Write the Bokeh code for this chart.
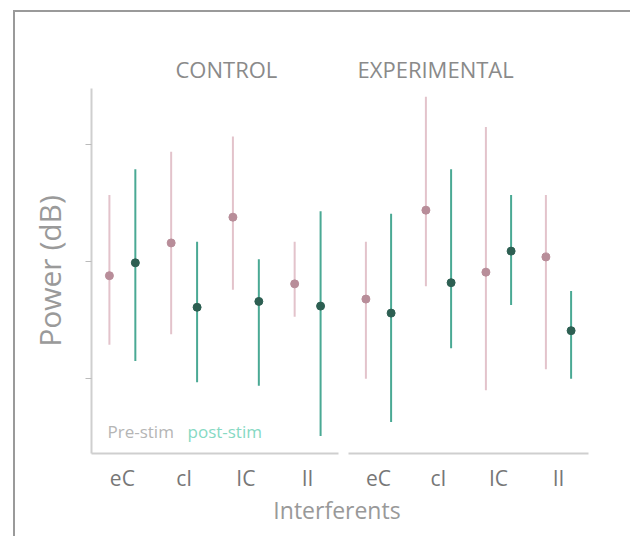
from bokeh.plotting import figure
from bokeh.models import ColumnDataSource, Range1d, FixedTicker, Label, Div, Title
from bokeh.layouts import row, column
from bokeh.transform import dodge
from bokeh.embed import file_html
from bokeh.resources import INLINE

categories = ["eC", "cI", "IC", "II"]
groups = ["CONTROL", "EXPERIMENTAL"]
series_names = ["Pre-stim", "post-stim"]

# CONTROL
control_pre_mean = [-0.12, 0.16, 0.38, -0.19]
control_pre_lo = [-0.71, -0.62, -0.24, -0.47]
control_pre_hi = [0.57, 0.94, 1.07, 0.17]
control_post_mean = [-0.01, -0.39, -0.34, -0.38]
control_post_lo = [-0.85, -1.03, -1.06, -1.49]
control_post_hi = [0.79, 0.17, 0.02, 0.43]

# EXPERIMENTAL
exp_pre_mean = [-0.32, 0.44, -0.09, 0.04]
exp_pre_lo = [-1.00, -0.21, -1.10, -0.92]
exp_pre_hi = [0.17, 1.41, 1.15, 0.57]
exp_post_mean = [-0.44, -0.18, 0.09, -0.59]
exp_post_lo = [-1.37, -0.74, -0.37, -1.00]
exp_post_hi = [0.41, 0.79, 0.57, -0.25]

y_ticks = [-1, 0, 1]

PINK_BAR = "#e3c3cb"
PINK_DOT = "#b88d99"
TEAL_BAR = "#4aa994"
TEAL_DOT = "#2d5f52"
FONT = "Open Sans"
GRAY = "#8a8a8a"
FRAME = "#9a9a9a"


def make_panel(title, pre, pre_lo, pre_hi, post, post_lo, post_hi, fw,
               bl, br, title_offset, show_y):
    p = figure(x_range=categories, y_range=Range1d(-1.64, 1.48),
               frame_width=fw, frame_height=365, output_backend="svg",
               toolbar_location=None, min_border_left=bl, min_border_right=br,
               min_border_top=76, min_border_bottom=0)
    p.x_range.range_padding = 0
    p.title = Title(text=title, align="left", offset=title_offset,
                    text_font=FONT, text_font_size="22px",
                    text_font_style="normal", text_color=GRAY)
    src = ColumnDataSource(dict(cat=categories, pre=pre, pre_lo=pre_lo, pre_hi=pre_hi,
                                post=post, post_lo=post_lo, post_hi=post_hi))
    xpre = dodge("cat", -0.21, range=p.x_range)
    xpost = dodge("cat", 0.21, range=p.x_range)
    p.segment(x0=xpre, y0="pre_lo", x1=xpre, y1="pre_hi", source=src,
              line_color=PINK_BAR, line_width=2)
    p.segment(x0=xpost, y0="post_lo", x1=xpost, y1="post_hi", source=src,
              line_color=TEAL_BAR, line_width=2)
    p.scatter(x=xpre, y="pre", source=src, size=8, fill_color=PINK_DOT,
              line_color=PINK_DOT)
    p.scatter(x=xpost, y="post", source=src, size=8, fill_color=TEAL_DOT,
              line_color=TEAL_DOT)

    p.outline_line_color = None
    p.grid.grid_line_color = None
    p.xaxis.axis_line_color = "#cfcfcf"
    p.xaxis.axis_line_width = 2
    p.xaxis.major_tick_line_color = None
    p.xaxis.minor_tick_line_color = None
    p.xaxis.major_label_text_font = FONT
    p.xaxis.major_label_text_font_size = "21px"
    p.xaxis.major_label_text_color = "#777777"
    p.xaxis.major_label_standoff = 4
    p.background_fill_color = None
    p.border_fill_color = None
    if show_y:
        p.yaxis.ticker = FixedTicker(ticks=y_ticks)
        p.yaxis.major_label_overrides = {t: "" for t in y_ticks}
        p.yaxis.major_label_standoff = 0
        p.yaxis.minor_tick_line_color = None
        p.yaxis.major_tick_line_color = "#bbbbbb"
        p.yaxis.major_tick_out = 6
        p.yaxis.major_tick_in = 0
        p.yaxis.axis_line_color = "#cfcfcf"
        p.yaxis.axis_line_width = 2
        p.yaxis.axis_label = "Power (dB)"
        p.yaxis.axis_label_text_font = FONT
        p.yaxis.axis_label_text_font_size = "30px"
        p.yaxis.axis_label_text_font_style = "normal"
        p.yaxis.axis_label_text_color = "#9a9a9a"
        p.yaxis.axis_label_standoff = 16
    else:
        p.yaxis.visible = False
    return p


p1 = make_panel(groups[0], control_pre_mean, control_pre_lo, control_pre_hi,
                control_post_mean, control_post_lo, control_post_hi,
                fw=247, bl=76, br=4, title_offset=84, show_y=True)
p2 = make_panel(groups[1], exp_pre_mean, exp_pre_lo, exp_pre_hi,
                exp_post_mean, exp_post_lo, exp_post_hi,
                fw=240, bl=6, br=30, title_offset=9, show_y=False)

p1.add_layout(Label(x=16, y=11, x_units="screen", y_units="screen",
                    text=series_names[0], text_font=FONT, text_font_size="17px",
                    text_color="#b5b5b5"))
p1.add_layout(Label(x=96, y=11, x_units="screen", y_units="screen",
                    text=series_names[1], text_font=FONT, text_font_size="17px",
                    text_color="#86d9c3"))

xlabel = Div(text="Interferents", width=460, height=30, margin=(0, 0, 0, 92),
             styles={"text-align": "center", "font-family": FONT,
                     "font-size": "23px", "color": "#999999"})

top_line = Div(width=617, height=2, margin=(10, 0, 0, 13),
               styles={"background-color": FRAME})
left_line = Div(width=2, height=524, margin=(0, 0, 0, 13),
                styles={"background-color": FRAME})

layout = column(top_line, row(left_line, column(row(p1, p2), xlabel)))

open("out.html", "w").write(file_html(layout, INLINE))
